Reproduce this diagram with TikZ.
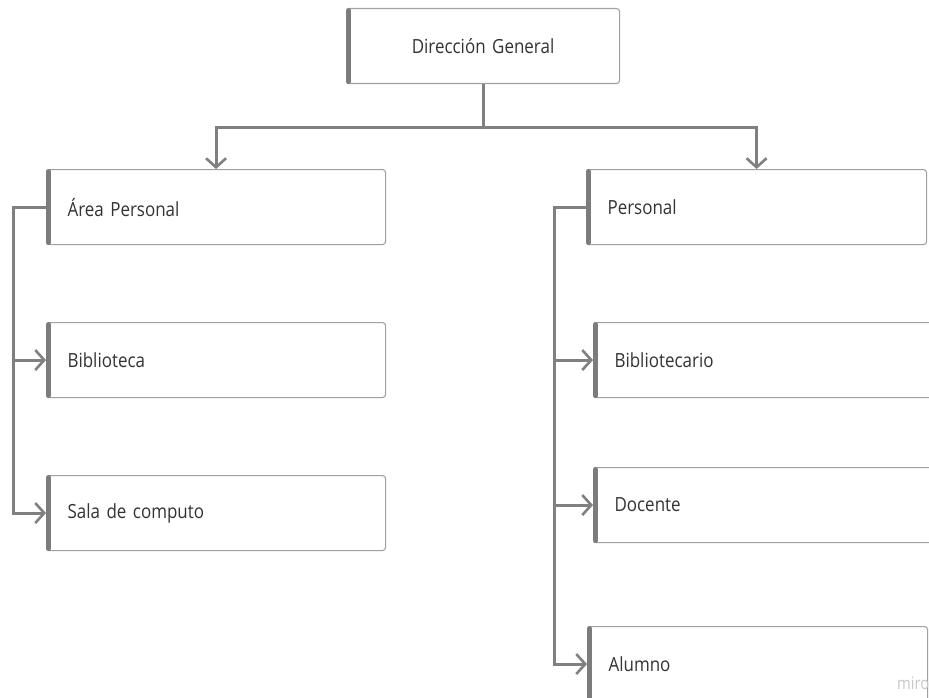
\documentclass[tikz,border=0pt]{standalone}
\usepackage{fontspec}
\setmainfont{Open Sans}
\newfontfamily\cardfont[FakeStretch=0.87]{Open Sans}
\usetikzlibrary{arrows.meta}

% card label face: slightly condensed, with tighter word spaces
\newcommand\cardface{\cardfont\fontsize{19.5}{22}\selectfont\spaceskip 3.6pt plus 1pt\relax}

\definecolor{txtc}{HTML}{333333}
\definecolor{edgec}{HTML}{A0A0A0}
\definecolor{barc}{HTML}{7C7C7C}
\definecolor{linkc}{HTML}{808080}
\definecolor{wmc}{HTML}{C8C8C8}

\tikzset{
  card/.style={draw=edgec, line width=1.1pt, rounded corners=3pt, fill=white,
    anchor=north west, minimum height=75pt, text width=#1, inner xsep=21pt,
    inner ysep=0pt, align=left, text=txtc, font=\cardface},
  card/.default=297pt,
  barline/.style={draw=barc, line width=5pt, line cap=round},
  link/.style={draw=linkc, line width=3pt,
    -{Straight Barb[length=9pt, width=20pt, line width=2.6pt]}},
  watermark/.style={text=wmc, font=\cardfont\fontsize{17}{19}\selectfont, anchor=west, inner sep=0pt}
}

\begin{document}
\begin{tikzpicture}[x=1pt, y=-1pt]
  % canvas
  \fill[white] (0,0) rectangle (929,698);
  \path[use as bounding box, clip] (0,0) rectangle (929,698);

  % root
  \node[card=231pt, align=center] (dg) at (346,8) {Dirección General};

  % left branch
  \node[card] (ap)   at (46,169) {Área Personal};
  \node[card] (bib)  at (46,322) {Biblioteca};
  \node[card] (sala) at (46,475) {Sala de computo};

  % right branch
  \node[card=298pt] (per) at (586,169) {Personal};
  \node[card=298pt] (btc) at (593,322) {Bibliotecario};
  \node[card=298pt] (doc) at (593,467) {Docente};
  \node[card=298pt] (alu) at (587,626) {Alumno};

  % accent bar on the left side of every card
  \foreach \n in {dg,ap,bib,sala,per,btc,doc,alu}
    \draw[barline] ([xshift=2.5pt,yshift=-2.5pt]\n.north west) -- ([xshift=2.5pt,yshift=2.5pt]\n.south west);

  % root to branches
  \draw[link] (dg.south) -- ++(0,43) -| (ap.north);
  \draw[link] (dg.south) -- ++(0,43) -| (per.north);

  % left column
  \draw[link] (ap.west) -- ++(-33,0) |- (bib.west);
  \draw[link] (ap.west) -- ++(-33,0) |- (sala.west);

  % right column
  \draw[link] (per.west) -- ++(-32,0) |- (btc.west);
  \draw[link] (per.west) -- ++(-32,0) |- (doc.west);
  \draw[link] (per.west) -- ++(-32,0) |- (alu.west);

  \node[watermark] (wm) at (897,683) {miro};
\end{tikzpicture}
\end{document}
